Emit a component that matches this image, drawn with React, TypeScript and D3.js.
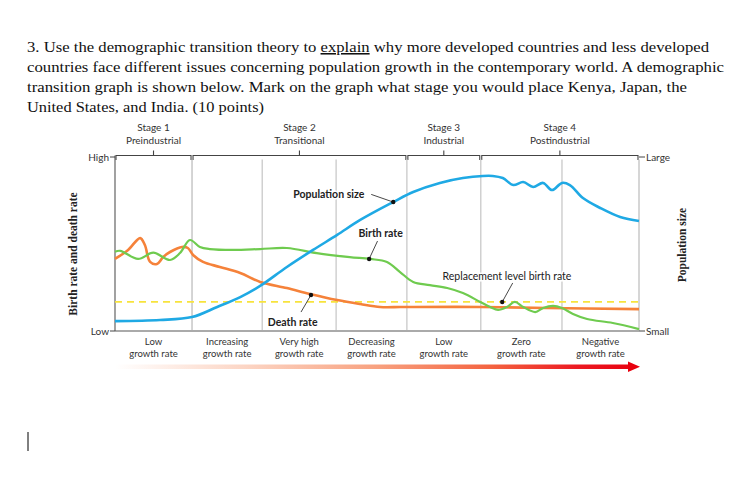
import React from "react";
import * as d3 from "d3";

// ---------- data ----------
const questionLines = [
  "3. Use the demographic transition theory to |explain| why more developed countries and less developed",
  "countries face different issues concerning population growth in the contemporary world. A demographic",
  "transition graph is shown below.  Mark on the graph what stage you would place Kenya, Japan, the",
  "United States, and India. (10 points)",
];
const questionLineEnds = [709, 724, 687, 264];

const stageNames = ["Stage 1", "Stage 2", "Stage 3", "Stage 4"];
const stageSubtitles = ["Preindustrial", "Transitional", "Industrial", "Postindustrial"];
const stageBounds = [0, 14.7, 55.7, 69.8, 100];

const growthBounds = [0, 14.7, 28.1, 42.2, 55.7, 69.8, 85.3, 100];
const growthLabels = ["Low", "Increasing", "Very high", "Decreasing", "Low", "Zero", "Negative"];

const replacementLevel = 16.7;

const populationSize: [number, number][] = [
  [0, 5.7], [8.6, 6.3], [14.7, 8.0], [19.5, 13.8], [23.9, 19.5], [27.7, 25.9],
  [32.8, 36.8], [37.8, 46.6], [42.4, 55.2], [46.8, 63.8], [53.1, 74.1], [56.9, 79.9],
  [62.0, 85.1], [66.4, 87.9], [70.2, 89.1], [72.1, 89.1], [74.0, 87.9], [76.0, 83.9],
  [77.9, 85.6], [79.8, 82.8], [81.7, 85.1], [83.4, 81.0], [85.3, 85.1], [86.8, 83.9],
  [89.3, 76.4], [92.6, 70.7], [96.4, 65.5], [100, 63.2],
];

const birthRate: [number, number][] = [
  [0, 45.6], [1.0, 46.1], [4.4, 41.4], [7.3, 45.0], [10.5, 40.8], [12.4, 44.8],
  [14.3, 52.3], [16.2, 48.3], [18.1, 47.1], [22.5, 46.6], [27.7, 47.1], [32.8, 47.7],
  [38.5, 44.8], [44.8, 42.5], [48.7, 41.4], [51.9, 39.7], [54.4, 33.9], [56.9, 28.2],
  [60.1, 26.4], [63.4, 24.7], [66.4, 21.8], [69.7, 16.7], [71.6, 13.8], [73.1, 12.1],
  [74.8, 13.8], [76.3, 16.7], [77.9, 13.8], [80.2, 10.9], [81.7, 13.2], [83.6, 14.4],
  [85.3, 13.2], [87.4, 9.8], [90.1, 6.9], [95.0, 4.6], [100, 1.1],
];

const deathRate: [number, number][] = [
  [0, 41.4], [2.5, 46.6], [4.8, 53.4], [5.7, 49.4], [6.7, 39.7], [8.0, 38.5],
  [9.2, 42.5], [10.5, 45.4], [12.8, 48.3], [13.9, 47.7], [14.9, 43.7], [16.8, 39.7],
  [20.0, 36.8], [23.9, 33.3], [27.7, 28.2], [32.8, 24.7], [37.2, 21.3], [42.4, 17.8],
  [46.8, 15.5], [50.6, 13.8], [54.4, 13.8], [56.9, 13.8], [69.7, 13.8], [82.4, 13.2],
  [100, 12.6],
];

const annotationNames = ["Population size", "Birth rate", "Death rate", "Replacement level birth rate"];
const annotationDots: [number, number][] = [[53.1, 74.1], [48.5, 41.4], [37.4, 20.7], [73.9, 16.7]];
const annotationLeaderEnds: [number, number][] = [[48.9, 78.5], [50.1, 51.7], [35.5, 10.9], [75.9, 27.6]];
const annotationTextPos: [number, number][] = [[40.8, 78.4], [50.7, 56.0], [33.9, 4.6], [74.8, 31.5]];
const annotationBold = [true, true, true, false];

export default function App() {
  const W = 753, H = 479;
  const x = d3.scaleLinear().domain([0, 100]).range([115, 639]);
  const y = d3.scaleLinear().domain([0, 100]).range([331, 157]);
  const line = d3
    .line<[number, number]>()
    .x((d) => x(d[0]))
    .y((d) => y(d[1]))
    .curve(d3.curveCatmullRom.alpha(0.5));

  const sans = "Lato, 'Open Sans', sans-serif";
  const serif = "'Liberation Serif', 'DejaVu Serif', serif";
  const bracketY = 155.5;
  const frameBottom = y(0);

  return (
    <div style={{ position: "absolute", left: 0, top: 0, width: W, height: H, background: "#fff" }}>
      <svg width={W} height={H} style={{ display: "block" }}>
        <defs>
          <linearGradient id="arrowGrad" gradientUnits="userSpaceOnUse" x1={x(0)} x2={x(100)} y1={0} y2={0}>
            <stop offset="0%" stopColor="#ffffff" />
            <stop offset="25%" stopColor="#fcd5c4" />
            <stop offset="50%" stopColor="#f8a17f" />
            <stop offset="72%" stopColor="#f4623f" />
            <stop offset="88%" stopColor="#ec1a22" />
            <stop offset="100%" stopColor="#e8000e" />
          </linearGradient>
        </defs>

        {questionLines.map((ln, i) => {
          const parts = ln.split("|");
          return (
            <text
              key={i}
              x={27}
              y={52 + i * 20}
              fontFamily={serif}
              fontSize={15.5}
              fill="#111"
              textLength={questionLineEnds[i] - 27}
              lengthAdjust="spacingAndGlyphs"
            >
              {parts.map((p, j) => (
                <tspan key={j} textDecoration={j === 1 ? "underline" : undefined}>
                  {p}
                </tspan>
              ))}
            </text>
          );
        })}

        {stageNames.map((s, i) => {
          const x0 = x(stageBounds[i]);
          const x1 = x(stageBounds[i + 1]);
          const cx = (x0 + x1) / 2;
          return (
            <g key={s}>
              <text x={cx} y={131} textAnchor="middle" fontFamily={sans} fontSize={10} fill="#333">{s}</text>
              <text x={cx} y={143.5} textAnchor="middle" fontFamily={sans} fontSize={10} fill="#333">{stageSubtitles[i]}</text>
              <path
                d={`M${x0 + 1},${bracketY + 4.5}V${bracketY}H${x1 - 1}V${bracketY + 4.5}M${cx},${bracketY}V${bracketY - 5}`}
                fill="none"
                stroke="#444"
                strokeWidth={1.1}
              />
            </g>
          );
        })}

        {growthBounds.slice(1, -1).map((g, i) => (
          <line key={i} x1={x(g)} x2={x(g)} y1={bracketY + 4} y2={frameBottom} stroke={i === 0 ? "#aaa" : "#d0d0d0"} strokeWidth={i === 0 ? 1 : 1.5} />
        ))}

        <line x1={x(100)} x2={x(100)} y1={bracketY + 4} y2={frameBottom} stroke="#bbb" strokeWidth={1.2} />
        <line x1={x(0)} x2={x(100)} y1={frameBottom} y2={frameBottom} stroke="#aaa" strokeWidth={2.2} />
        <line x1={x(0)} x2={x(0)} y1={bracketY} y2={frameBottom} stroke="#555" strokeWidth={1.1} />

        <line x1={x(0) - 5} x2={x(0)} y1={y(100)} y2={y(100)} stroke="#444" strokeWidth={1} />
        <line x1={x(0) - 5} x2={x(0)} y1={y(0)} y2={y(0)} stroke="#444" strokeWidth={1} />
        <text x={x(0) - 6} y={y(100) + 3.5} textAnchor="end" fontFamily={sans} fontSize={10} fill="#333">High</text>
        <text x={x(0) - 6} y={y(0) + 3.5} textAnchor="end" fontFamily={sans} fontSize={10} fill="#333">Low</text>

        <line x1={x(100)} x2={x(100) + 6} y1={y(100)} y2={y(100)} stroke="#444" strokeWidth={1} />
        <line x1={x(100)} x2={x(100) + 6} y1={y(0)} y2={y(0)} stroke="#444" strokeWidth={1} />
        <text x={x(100) + 7} y={y(100) + 3.5} fontFamily={sans} fontSize={10} fill="#333">Large</text>
        <text x={x(100) + 7} y={y(0) + 3.5} fontFamily={sans} fontSize={10} fill="#333">Small</text>

        <text transform={`translate(77,${(y(0) + y(100)) / 2 + 10}) rotate(-90)`} textAnchor="middle" fontFamily={serif} fontWeight="bold" fontSize={11.5} fill="#222">
          Birth rate and death rate
        </text>
        <text transform={`translate(686,${(y(0) + y(100)) / 2 + 1}) rotate(-90)`} textAnchor="middle" fontFamily={serif} fontWeight="bold" fontSize={11.5} fill="#222">
          Population size
        </text>

        <line x1={x(0)} x2={x(100)} y1={y(replacementLevel)} y2={y(replacementLevel)} stroke="#f7e33d" strokeWidth={1.8} strokeDasharray="7,5" />

        <path d={line(deathRate) || ""} fill="none" stroke="#f5823a" strokeWidth={2.6} />
        <path d={line(birthRate) || ""} fill="none" stroke="#6fcb4f" strokeWidth={2.2} />
        <path d={line(populationSize) || ""} fill="none" stroke="#1fa9e4" strokeWidth={2.6} />

        {annotationNames.map((n, i) => {
          const [dx, dy] = annotationDots[i];
          const [lx, ly] = annotationLeaderEnds[i];
          const [tx, ty] = annotationTextPos[i];
          return (
            <g key={n}>
              <line x1={x(lx)} y1={y(ly)} x2={x(dx)} y2={y(dy)} stroke="#333" strokeWidth={0.9} />
              <circle cx={x(dx)} cy={y(dy)} r={2.2} fill="#111" />
              <text
                x={x(tx)}
                y={y(ty) + 3.5}
                textAnchor="middle"
                fontFamily={sans}
                fontWeight={annotationBold[i] ? "bold" : "normal"}
                fontSize={10.5}
                fill="#222"
                stroke="#fff"
                strokeWidth={3}
                paintOrder="stroke"
              >
                {n}
              </text>
            </g>
          );
        })}

        {growthLabels.map((g, i) => {
          const cx = (x(growthBounds[i]) + x(growthBounds[i + 1])) / 2;
          return (
            <g key={i}>
              <text x={cx} y={345} textAnchor="middle" fontFamily={sans} fontSize={9.5} fill="#333">{g}</text>
              <text x={cx} y={357} textAnchor="middle" fontFamily={sans} fontSize={9.5} fill="#333">growth rate</text>
            </g>
          );
        })}

        <rect x={x(0) - 1} y={364.5} width={x(100) - 10 - x(0) + 1} height={4.5} fill="url(#arrowGrad)" />
        <path d={`M${x(100) - 11},361.5L${x(100) + 1},366.75L${x(100) - 11},372Z`} fill="#e8000e" />

        <line x1={28} x2={28} y1={432} y2={451} stroke="#000" strokeWidth={1} />
      </svg>
    </div>
  );
}
